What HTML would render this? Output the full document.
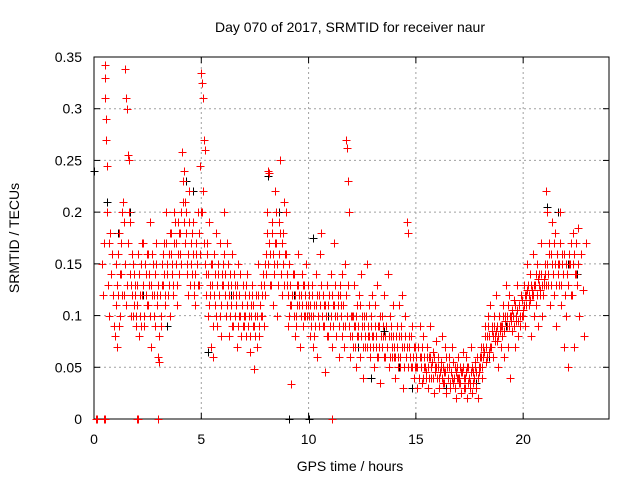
<!DOCTYPE html>
<html><head><meta charset="utf-8"><style>
body{margin:0;background:#fff}
svg text{font-family:"Liberation Sans",sans-serif;font-size:14px;fill:#000}
</style></head><body>
<svg id="chart" width="640" height="480" viewBox="0 0 640 480" xmlns="http://www.w3.org/2000/svg">
<rect width="640" height="480" fill="#fff"/>
<g id="grid"></g>
<g id="axes"></g>
<g id="marks"></g>
<text x="350" y="32" text-anchor="middle">Day 070 of 2017, SRMTID for receiver naur</text>
<text x="350" y="471" text-anchor="middle">GPS time / hours</text>
<text x="19" y="238" text-anchor="middle" transform="rotate(-90 19 238)">SRMTID / TECUs</text>
</svg>
<script>
const xTicks=[0,5,10,15,20];
const yTicks=[0,0.05,0.1,0.15,0.2,0.25,0.3,0.35];
const yTickLabels=["0","0.05","0.1","0.15","0.2","0.25","0.3","0.35"];
// red series: hourly bins, values spread evenly through each hour
const hourBins=[1,2,3,4,5,6,7,8,9,10,11,12,13,14,15,16,17,18,19,20,21,22];
const binValues=[
[.08,.15,.07,.12,.18,.1,.14,.2,.21,.12,.338,.31,.3,.255,.25,.19,.13,.16,.1,.14,.12,.09],
[.13,.16,.08,.1,.15,.12,.17,.09,.14,.11,.16,.13,.19,.07,.12,.15,.1,.14,.17,.12],
[.06,.055,.09,.15,.13,.17,.11,.2,.14,.12,.16,.1,.18,.15,.13,.2,.17,.11,.19,.14],
[.16,.2,.258,.23,.24,.21,.18,.15,.12,.22,.17,.14,.19,.13,.11,.16,.15,.2,.13,.245],
[.335,.325,.31,.27,.26,.14,.17,.1,.19,.12,.07,.15,.13,.06,.16,.11,.18,.09,.14,.12,.17,.08,.13],
[.15,.2,.12,.1,.17,.13,.08,.14,.11,.16,.09,.13,.12,.07,.15,.1,.14,.08,.11,.13],
[.09,.12,.08,.14,.1,.065,.11,.13,.09,.048,.1,.12,.07,.15,.08,.11,.13,.1,.09,.12],
[.14,.2,.24,.238,.16,.13,.18,.11,.15,.22,.17,.1,.19,.25,.14,.12,.18,.21,.16,.2],
[.13,.09,.15,.11,.034,.12,.14,.08,.1,.13,.16,.11,.07,.12,.14,.09,.13,.1,.15,.11],
[.12,.08,.1,.13,.07,.11,.09,.14,.06,.1,.12,.16,.18,.09,.11,.045,.1,.13,.08,.12],
[.09,.14,.07,.11,.17,.1,.08,.12,.06,.13,.11,.14,.09,.07,.15,.27,.262,.23,.2,.06],
[.1,.07,.13,.09,.05,.11,.08,.12,.06,.14,.09,.04,.1,.07,.15,.08,.11,.06,.09,.12],
[.08,.05,.11,.07,.13,.06,.09,.035,.1,.08,.12,.06,.09,.07,.14,.05,.1,.08,.06,.11],
[.07,.04,.09,.06,.11,.05,.08,.12,.03,.07,.1,.06,.19,.18,.08,.05,.09,.06,.04,.07],
[.05,.03,.07,.04,.09,.06,.035,.08,.05,.045,.07,.03,.06,.09,.04,.055,.065,.025,.05,.075],
[.04,.06,.03,.05,.08,.035,.045,.07,.025,.05,.04,.06,.03,.045,.07,.035,.05,.02,.04,.06],
[.035,.05,.025,.045,.065,.03,.04,.06,.02,.05,.035,.07,.025,.045,.04,.055,.03,.06,.02,.045],
[.05,.07,.04,.06,.09,.055,.08,.1,.065,.11,.07,.09,.06,.1,.08,.12,.075,.05,.09,.07],
[.08,.11,.06,.1,.13,.09,.07,.12,.04,.1,.085,.115,.07,.095,.13,.08,.11,.09,.12,.1],
[.1,.13,.09,.12,.15,.11,.14,.08,.12,.16,.1,.13,.11,.15,.09,.14,.12,.17,.1,.13],
[.15,.22,.2,.13,.17,.11,.16,.19,.14,.12,.18,.09,.15,.13,.2,.11,.16,.14,.07,.12],
[.1,.05,.15,.12,.18,.07,.14,.185,.1,.16,.125,.08,.17]
];
// second red pass (offset half-step) for density
const binValues2=[
[.11,.13,.16,.09,.14,.17,.12,.19,.15,.11,.13,.17,.2,.14,.1,.12,.15,.11,.13,.1],
[.11,.14,.12,.09,.17,.13,.1,.15,.12,.16,.11,.14,.1,.13,.16,.12,.09,.15,.11,.13],
[.08,.12,.1,.13,.16,.14,.12,.17,.15,.13,.18,.16,.14,.12,.17,.19,.15,.13,.16,.18],
[.18,.15,.21,.19,.17,.2,.14,.16,.19,.13,.15,.18,.16,.12,.14,.17,.13,.18,.16,.2],
[.2,.22,.17,.15,.12,.16,.14,.11,.13,.15,.09,.12,.14,.1,.13,.15,.12,.1,.11,.14],
[.13,.16,.14,.11,.15,.12,.1,.13,.09,.12,.14,.1,.11,.13,.09,.12,.1,.11,.09,.1],
[.1,.13,.11,.09,.12,.08,.1,.12,.11,.09,.08,.1,.12,.09,.11,.1,.12,.14,.13,.15],
[.16,.18,.15,.17,.13,.19,.16,.14,.17,.2,.15,.13,.16,.18,.14,.17,.15,.13,.16,.14],
[.12,.1,.13,.11,.12,.14,.1,.12,.09,.11,.13,.12,.1,.11,.13,.1,.12,.11,.1,.13],
[.1,.11,.09,.12,.1,.08,.11,.12,.1,.09,.11,.13,.1,.12,.09,.11,.1,.08,.11,.09],
[.1,.12,.09,.11,.13,.08,.1,.11,.09,.12,.1,.08,.11,.09,.12,.1,.13,.09,.08,.1],
[.08,.1,.09,.07,.1,.08,.09,.11,.08,.1,.07,.09,.08,.1,.07,.09,.08,.07,.1,.08],
[.07,.09,.08,.06,.09,.07,.1,.08,.07,.09,.06,.08,.09,.07,.08,.06,.09,.07,.08,.06],
[.06,.08,.07,.05,.08,.06,.09,.07,.05,.08,.06,.07,.05,.07,.06,.08,.05,.06,.07,.05],
[.06,.05,.04,.06,.05,.07,.04,.06,.05,.04,.06,.05,.04,.06,.05,.04,.06,.045,.05,.04],
[.05,.04,.045,.055,.04,.05,.035,.045,.06,.04,.05,.035,.045,.04,.055,.04,.03,.045,.05,.04],
[.04,.035,.045,.05,.04,.03,.045,.05,.035,.04,.03,.045,.05,.035,.04,.05,.045,.04,.05,.06],
[.06,.05,.07,.065,.08,.07,.06,.09,.08,.07,.085,.08,.09,.075,.085,.09,.08,.1,.085,.09],
[.09,.1,.085,.095,.1,.11,.09,.1,.095,.105,.1,.09,.11,.1,.105,.095,.11,.1,.115,.105],
[.11,.12,.11,.125,.13,.12,.115,.13,.125,.12,.13,.14,.12,.135,.13,.125,.14,.13,.12,.135],
[.14,.13,.15,.14,.16,.13,.15,.14,.17,.15,.13,.16,.14,.15,.17,.13,.15,.14,.16,.15],
[.14,.13,.16,.15,.17,.12,.15,.16,.14,.17,.13,.15]
];
const redT=[.35,.4,.45,.5,.5,.52,.55,.55,.6,.6,.65,.7,.7,.75,.8,.85,.9,.95,.1,.15,.45,.5,2.0,2.05,3.0,11.1];
const redV=[.15,.12,.17,.342,.33,.31,.29,.27,.245,.2,.13,.17,.1,.18,.14,.16,.12,.09,0,0,0,0,0,0,0,0];
const blackT=[-.02,.6,1.1,1.7,2.3,3.4,4.3,4.6,5.3,5.8,6.4,7.2,8.1,8.6,9.1,9.3,10,10.2,10.9,11.4,12.3,12.9,13.5,14.2,14.8,15.6,16.4,17.1,17.8,18.4,19.2,19.8,20.4,21.1,21.6,22.1,22.5];
const blackV=[.24,.21,.18,.2,.12,.09,.23,.22,.065,.14,.12,.1,.235,.2,0,.12,0,.175,.1,.06,.07,.04,.085,.05,.03,.04,.03,.025,.035,.06,.09,.11,.12,.205,.2,.15,.14];

const X0=94,X1=609,Y0=419,Y1=57,XMAX=24,YMAX=0.35;
const xs=t=>X0+t/XMAX*(X1-X0);
const ys=v=>Y0-v/YMAX*(Y0-Y1);
const NS="http://www.w3.org/2000/svg";
function mk(tag,attrs,parent){const e=document.createElementNS(NS,tag);for(const k in attrs)e.setAttribute(k,attrs[k]);parent.appendChild(e);return e;}
const grid=document.getElementById('grid'),axes=document.getElementById('axes'),marks=document.getElementById('marks');
xTicks.forEach(t=>{
 if(t>0){const l=mk('line',{x1:xs(t),x2:xs(t),y1:Y0,y2:Y1,stroke:'#a0a0a0','stroke-dasharray':'2,3'},grid);
 
 }
 mk('line',{x1:xs(t),x2:xs(t),y1:Y0,y2:Y0-6,stroke:'#000'},axes);
 mk('line',{x1:xs(t),x2:xs(t),y1:Y1,y2:Y1+6,stroke:'#000'},axes);
 const tx=mk('text',{x:xs(t),y:Y0+25,'text-anchor':'middle'},axes);tx.textContent=t;
 
 
});
yTicks.forEach((v,i)=>{
 if(v>0&&v<YMAX){const l=mk('line',{x1:X0,x2:X1,y1:ys(v),y2:ys(v),stroke:'#a0a0a0','stroke-dasharray':'2,3'},grid);
 
 }
 mk('line',{x1:X0,x2:X0+6,y1:ys(v),y2:ys(v),stroke:'#000'},axes);
 mk('line',{x1:X1,x2:X1-6,y1:ys(v),y2:ys(v),stroke:'#000'},axes);
 const tx=mk('text',{x:X0-12,y:ys(v)+5,'text-anchor':'end'},axes);tx.textContent=yTickLabels[i];
 
 
});
const fr=mk('rect',{x:X0,y:Y1,width:X1-X0,height:Y0-Y1,fill:'none',stroke:'#000'},axes);


function plus(t,v,color,name){
 const x=Math.round(xs(t))+.5,y=Math.round(ys(v))+.5;
 const p=mk('path',{d:`M${x-4},${y}H${x+4}M${x},${y-4}V${y+4}`,stroke:color,'stroke-width':1,fill:'none'},marks);
 
 
}
blackT.forEach((t,i)=>plus(t,blackV[i],'#000','black-point'));
hourBins.forEach((h,b)=>binValues[b].forEach((v,i)=>plus(h+i*(1/binValues[b].length),v,'#f00','red-point')));
hourBins.forEach((h,b)=>{const a=binValues2[b];if(a)a.forEach((v,i)=>plus(h+0.025+i*(Math.min(1,a.length*0.05)/a.length),v,'#f00','red-point'));});
redT.forEach((t,i)=>plus(t,redV[i],'#f00','red-point'));
</script>
</body></html>
